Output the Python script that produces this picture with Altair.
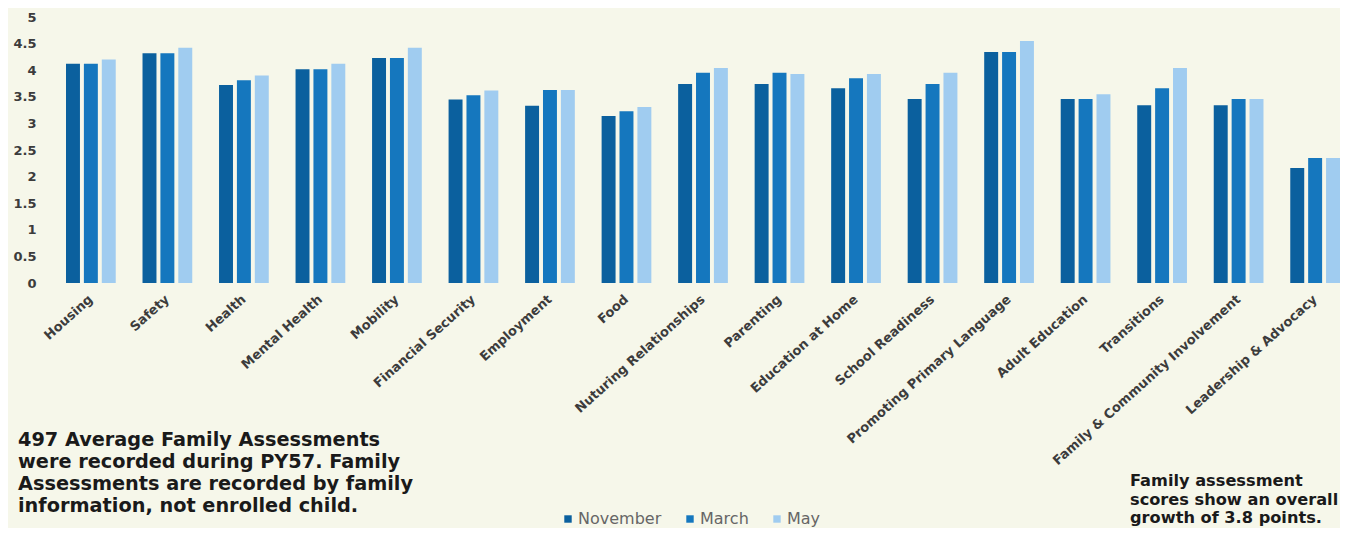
import altair as alt
import pandas as pd

categories = ["Housing", "Safety", "Health", "Mental Health", "Mobility",
              "Financial Security", "Employment", "Food", "Nuturing Relationships",
              "Parenting", "Education at Home", "School Readiness",
              "Promoting Primary Language", "Adult Education", "Transitions",
              "Family & Community Involvement", "Leadership & Advocacy"]
months = ["November", "March", "May"]
november = [4.12, 4.32, 3.72, 4.02, 4.23, 3.45, 3.33, 3.14, 3.74, 3.74, 3.66, 3.46, 4.34, 3.46, 3.34, 3.34, 2.16]
march =    [4.12, 4.32, 3.81, 4.02, 4.23, 3.53, 3.63, 3.23, 3.95, 3.95, 3.85, 3.74, 4.34, 3.46, 3.66, 3.46, 2.35]
may =      [4.20, 4.42, 3.90, 4.12, 4.42, 3.62, 3.63, 3.31, 4.04, 3.93, 3.93, 3.95, 4.55, 3.55, 4.04, 3.46, 2.35]
y_ticks = [0, 0.5, 1, 1.5, 2, 2.5, 3, 3.5, 4, 4.5, 5]
colors = ["#0B609E", "#1577BE", "#A0CCF0"]

left_note = ["497 Average Family Assessments",
             "were recorded during PY57. Family",
             "Assessments are recorded by family",
             "information, not enrolled child."]
right_note = ["Family assessment",
              "scores show an overall",
              "growth of 3.8 points."]

rows = []
for i, c in enumerate(categories):
    for m, vals in zip(months, [november, march, may]):
        rows.append({"category": c, "month": m, "value": vals[i]})
df = pd.DataFrame(rows)

FONT = "DejaVu Sans"

bars = alt.Chart(df).mark_bar().encode(
    x=alt.X("category:N", sort=categories,
            scale=alt.Scale(paddingInner=0.35, paddingOuter=0),
            axis=alt.Axis(title=None, labelAngle=318, labelAlign="right",
                          labelBaseline="middle", labelPadding=14, ticks=False,
                          domain=False, labelFont=FONT, labelFontWeight="bold",
                          labelFontSize=13, labelColor="#3c3c3c", labelLimit=0)),
    xOffset=alt.XOffset("month:N", sort=months,
                        scale=alt.Scale(paddingInner=0.22, paddingOuter=0)),
    y=alt.Y("value:Q", scale=alt.Scale(domain=[0, 5], nice=False),
            axis=alt.Axis(title=None, values=y_ticks, format=".1~f", grid=False,
                          domain=False, ticks=False, labelPadding=30,
                          labelFont=FONT, labelFontWeight="bold", labelFontSize=13,
                          labelColor="#3c3c3c")),
    color=alt.Color("month:N", sort=months,
                    scale=alt.Scale(domain=months, range=colors),
                    legend=alt.Legend(orient="none", legendX=494, legendY=494,
                                      direction="horizontal", title=None,
                                      symbolType="square", symbolSize=55,
                                      symbolStrokeWidth=0, labelFont=FONT,
                                      labelFontSize=16, labelColor="#666666",
                                      columnPadding=20, labelOffset=2)),
)

left_text = alt.Chart(pd.DataFrame({"t": ["\n".join(left_note)]})).mark_text(
    align="left", baseline="top", lineBreak="\n", lineHeight=22,
    font=FONT, fontWeight="bold", fontSize=19.3, color="#1a1a1a"
).encode(text="t:N", x=alt.value(-48), y=alt.value(414))

right_text = alt.Chart(pd.DataFrame({"t": ["\n".join(right_note)]})).mark_text(
    align="left", baseline="top", lineBreak="\n", lineHeight=18.7,
    font=FONT, fontWeight="bold", fontSize=16.2, color="#1a1a1a"
).encode(text="t:N", x=alt.value(1064), y=alt.value(456))

chart = alt.layer(bars, left_text, right_text).properties(
    width=1274, height=266,
    autosize=alt.AutoSizeParams(type="none"),
    padding={"left": 58, "top": 9, "right": 0, "bottom": 245},
    background="#F6F7EA",
).configure_view(stroke=None)

chart.save("out.html", embed_options={"renderer": "svg", "actions": False})
